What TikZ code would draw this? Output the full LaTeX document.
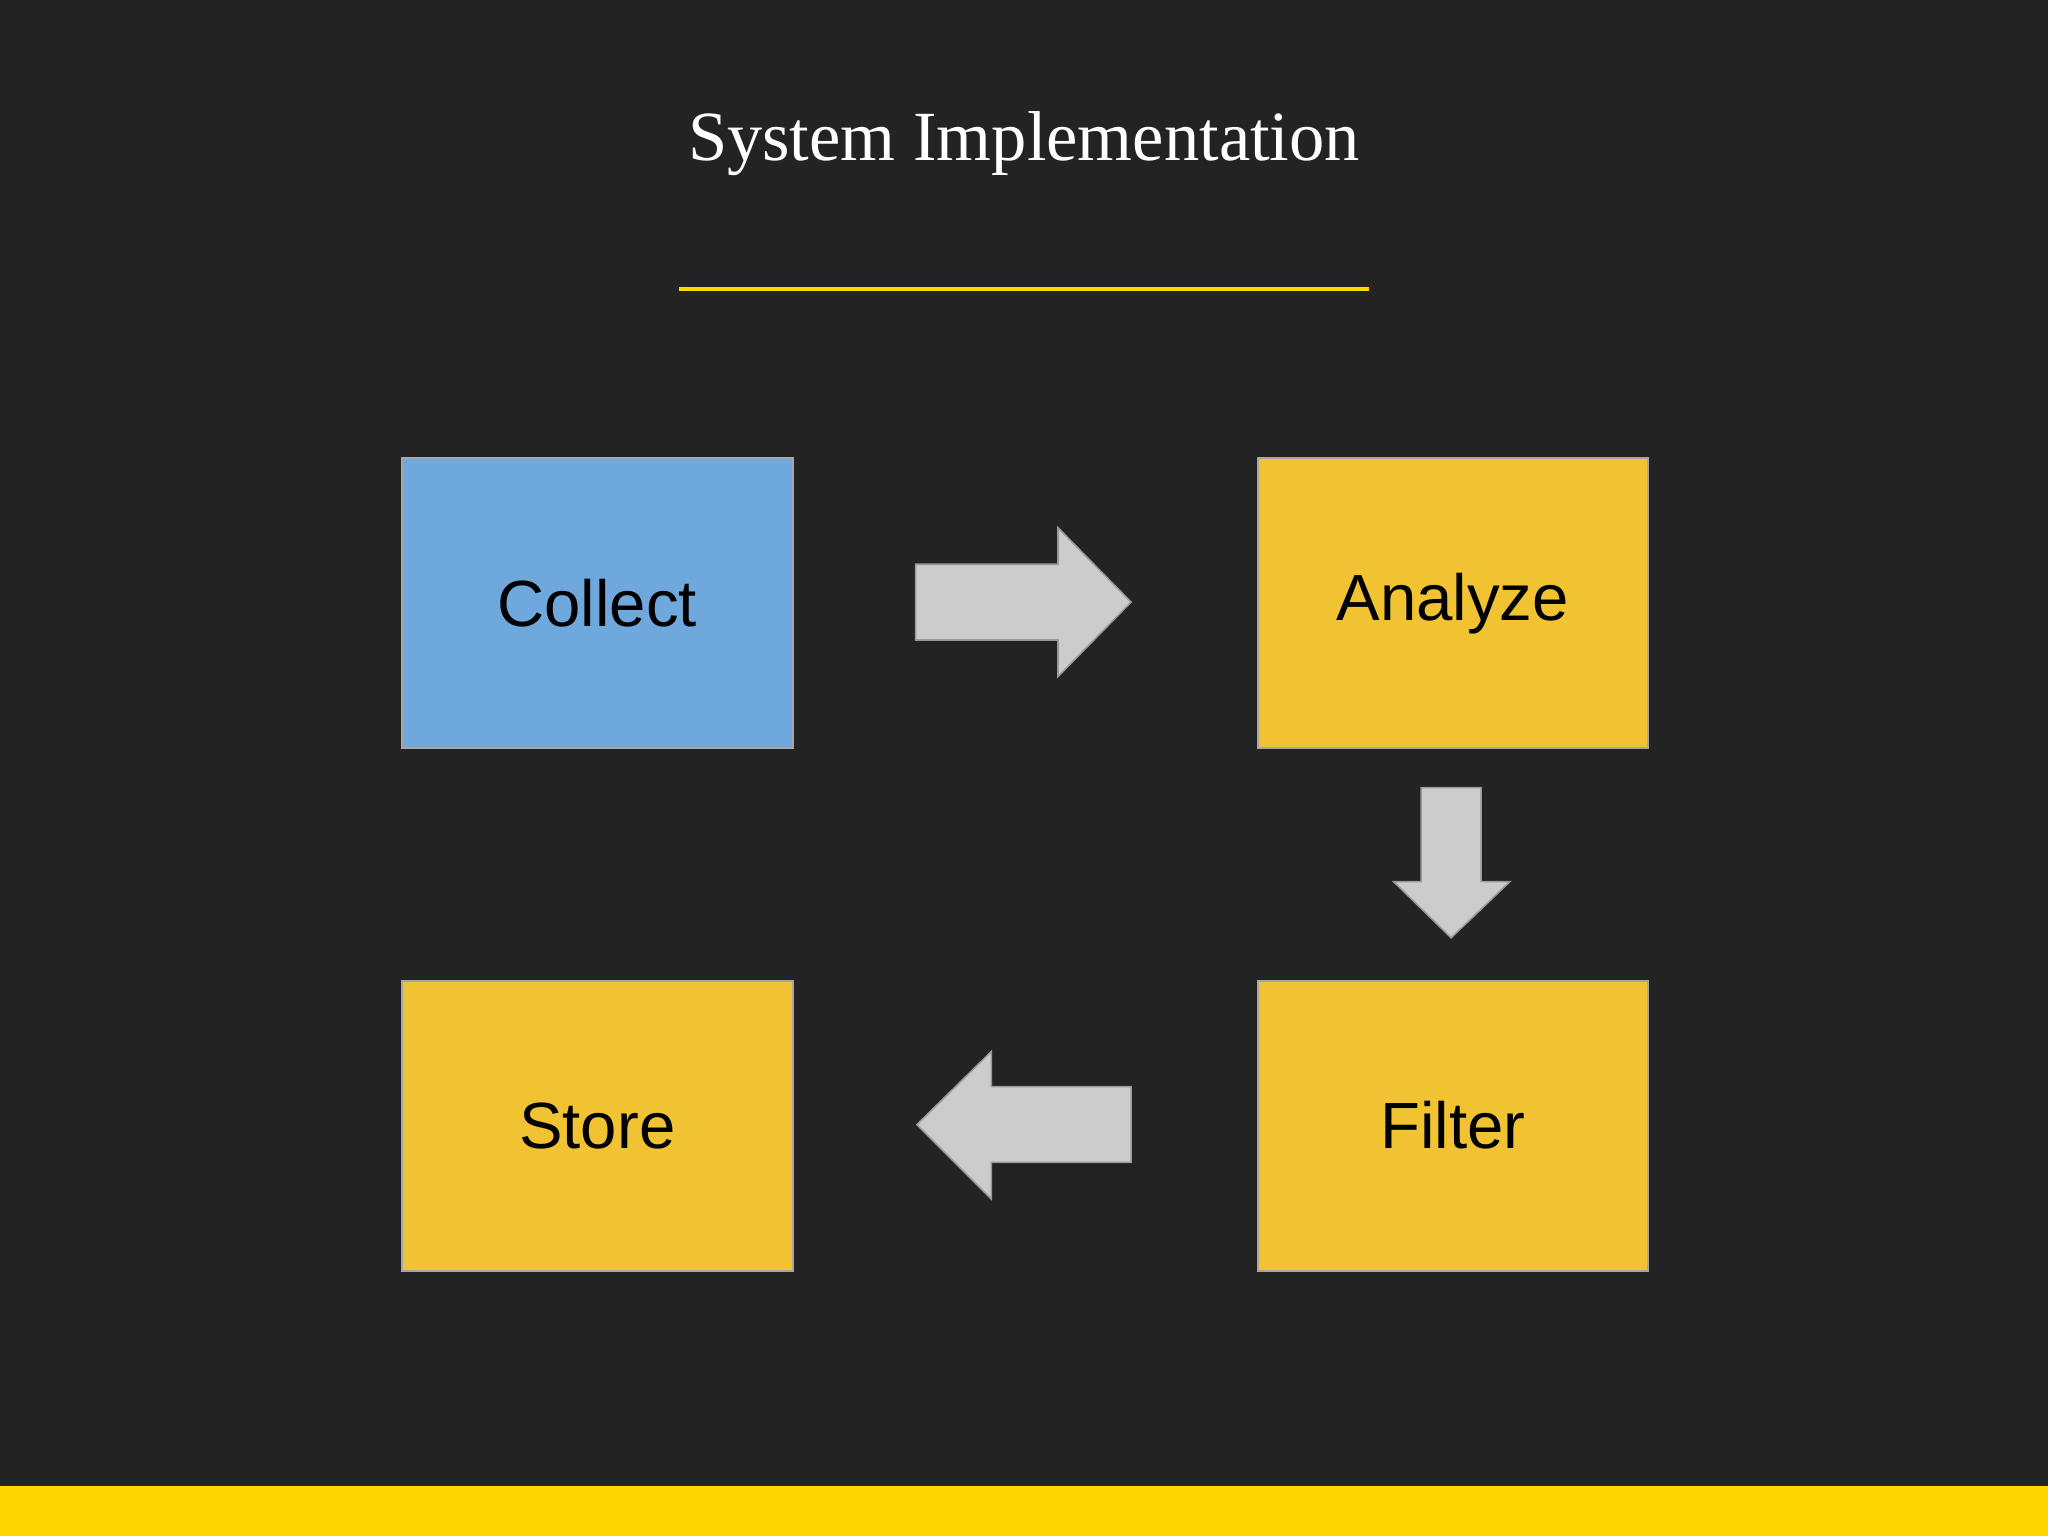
\documentclass[tikz,border=0pt]{standalone}
\usepackage{fontspec}
\setmainfont{Liberation Serif}
\setsansfont{Liberation Sans}
\begin{document}
\begin{tikzpicture}[x=0.5pt,y=-0.5pt,
  box/.style={draw=gray!70,line width=0.8pt,minimum width=149.5pt,minimum height=111pt,inner sep=0pt,font=\sffamily\fontsize{25}{30}\selectfont,anchor=north west},
  arr/.style={fill=gray!40!white,draw=gray!80,line width=0.6pt}]
\definecolor{bg}{HTML}{232323}
\definecolor{cblue}{HTML}{6FA8DC}
\definecolor{cyel}{HTML}{F1C232}
\definecolor{bar}{HTML}{FFD700}
\fill[bg] (0,0) rectangle (1568,1176);
\useasboundingbox (0,0) rectangle (1568,1176);
\fill[bar] (0,1138) rectangle (1568,1176);
\node[text=white,font=\fontsize{27}{32}\selectfont] (title) at (784,110) {System Implementation};
\draw[bar,line width=1.5pt] (520,221) -- (1048,221);
\node[box,fill=cblue] (collect) at (307,350) {Collect};
\node[box,fill=cyel] (analyze) at (962,350) {Analyze};
\node[box,fill=cyel] (filter) at (962,750) {Filter};
\node[box,fill=cyel] (store) at (307,750) {Store};
\draw[arr] (701,432) -- (810,432) -- (810,404) -- (866,461) -- (810,518) -- (810,490) -- (701,490) -- cycle;
\draw[arr] (1088,603) -- (1134,603) -- (1134,675) -- (1156,675) -- (1111,718) -- (1067,675) -- (1088,675) -- cycle;
\draw[arr] (866,832) -- (759,832) -- (759,805) -- (702,861) -- (759,918) -- (759,890) -- (866,890) -- cycle;
\end{tikzpicture}
\end{document}
